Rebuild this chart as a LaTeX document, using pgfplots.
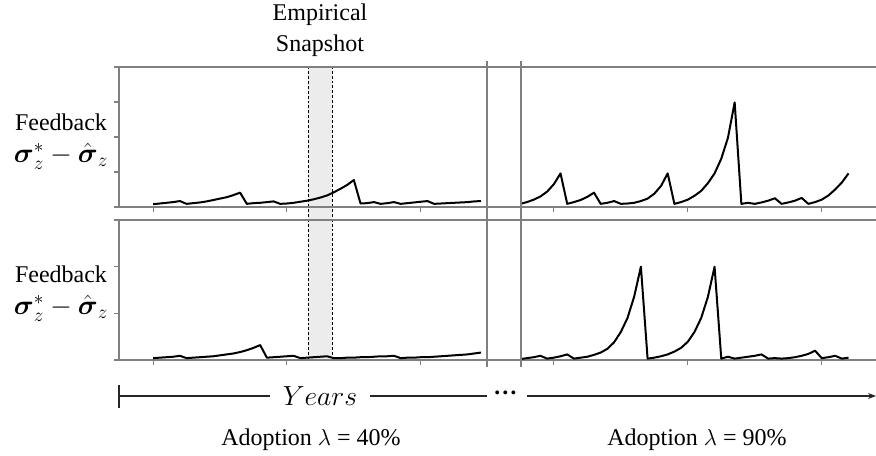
\documentclass[border=0pt]{standalone}
\usepackage{amsmath}
\usepackage{pgfplots}
\pgfplotsset{compat=1.18}
\usepackage{pgfplotstable}
\usepackage{fontspec}
\setmainfont{Liberation Serif}
\usetikzlibrary{arrows.meta}

% feedback series, one point per period
\pgfplotstableread{
t v
0 0.08
1 0.10
2 0.12
3 0.14
4 0.17
5 0.09
6 0.11
7 0.13
8 0.16
9 0.20
10 0.24
11 0.28
12 0.34
13 0.41
14 0.09
15 0.11
16 0.12
17 0.14
18 0.16
19 0.09
20 0.10
21 0.12
22 0.15
23 0.18
24 0.22
25 0.27
26 0.33
27 0.42
28 0.52
29 0.63
30 0.77
31 0.10
32 0.11
33 0.14
34 0.09
35 0.11
36 0.14
37 0.09
38 0.11
39 0.13
40 0.15
41 0.17
42 0.09
43 0.10
44 0.11
45 0.12
46 0.13
47 0.14
48 0.16
49 0.17
}\topleft

\pgfplotstableread{
t v
-5 0.09
-4 0.14
-3 0.21
-2 0.30
-1 0.44
0 0.65
1 0.96
2 0.09
3 0.14
4 0.20
5 0.29
6 0.41
7 0.09
8 0.12
9 0.17
10 0.09
11 0.10
12 0.12
13 0.17
14 0.24
15 0.38
16 0.60
17 0.96
18 0.09
19 0.14
20 0.21
21 0.32
22 0.46
23 0.68
24 0.96
25 1.38
26 1.98
27 2.99
28 0.09
29 0.12
30 0.09
31 0.13
32 0.18
33 0.25
34 0.09
35 0.13
36 0.18
37 0.26
38 0.09
39 0.14
40 0.21
41 0.33
42 0.50
43 0.70
44 0.96
}\topright

\pgfplotstableread{
t v
0 0.04
1 0.05
2 0.06
3 0.07
4 0.09
5 0.04
6 0.05
7 0.06
8 0.07
9 0.08
10 0.10
11 0.12
12 0.14
13 0.17
14 0.21
15 0.26
16 0.32
17 0.05
18 0.06
19 0.07
20 0.08
21 0.09
22 0.04
23 0.05
24 0.06
25 0.07
26 0.08
27 0.04
28 0.04
29 0.05
30 0.05
31 0.06
32 0.06
33 0.07
34 0.08
35 0.08
36 0.09
37 0.04
38 0.05
39 0.05
40 0.06
41 0.06
42 0.07
43 0.08
44 0.09
45 0.10
46 0.11
47 0.12
48 0.14
49 0.16
}\botleft

\pgfplotstableread{
t v
-5 0.02
-4 0.04
-3 0.06
-2 0.09
-1 0.03
0 0.05
1 0.08
2 0.12
3 0.03
4 0.05
5 0.07
6 0.11
7 0.16
8 0.24
9 0.38
10 0.60
11 0.90
12 1.36
13 2.00
14 0.03
15 0.05
16 0.08
17 0.12
18 0.18
19 0.26
20 0.39
21 0.60
22 0.90
23 1.35
24 2.00
25 0.03
26 0.07
27 0.03
28 0.05
29 0.07
30 0.09
31 0.12
32 0.03
33 0.04
34 0.03
35 0.04
36 0.06
37 0.09
38 0.13
39 0.20
40 0.04
41 0.06
42 0.09
43 0.03
44 0.05
}\botright

\pgfplotsset{
  panel/.style={
    scale only axis, anchor=south west, height=105pt,
    axis line style={gray, line width=1pt, -},
    xtick={0,20,40}, xticklabels={}, yticklabels={},
    xtick pos=lower, ytick pos=left,
    tick align=outside, major tick length=4pt,
    every tick/.style={gray, line width=0.8pt},
    clip=false,
  },
  leftpanel/.style={panel, width=276pt, xmin=-5.1, xmax=49.9},
  rightpanel/.style={panel, width=266.25pt, xmin=-4.9, xmax=48.1,
    axis x line*=box, axis y line*=left, ytick=\empty},
  curve/.style={black, line width=1.5pt, line join=round, mark=none},
}

\newcommand{\fb}{Feedback\\[1pt]{\fontsize{22}{26}\selectfont$\boldsymbol{\sigma}_z^{*}-\hat{\boldsymbol{\sigma}}_z$}}

\begin{document}
\begin{tikzpicture}[font=\fontsize{18}{23.25}\selectfont]
\useasboundingbox (0,0) rectangle (657pt,341.25pt);

% empirical snapshot band
\fill[gray!15] (231pt,71.25pt) rectangle (249pt,291pt);
\draw[black, line width=0.6pt, dash pattern=on 2.2pt off 1.5pt] (231pt,71.25pt) rectangle (249pt,291pt);

\begin{axis}[leftpanel, at={(89.25pt,186pt)}, ymin=0, ymax=4, ytick={0,1,2,3,4}]
\addplot[curve] table[x=t, y=v] {\topleft};
\end{axis}
\begin{axis}[rightpanel, at={(390.75pt,186pt)}, ymin=0, ymax=4]
\addplot[curve] table[x=t, y=v] {\topright};
\end{axis}
\begin{axis}[leftpanel, at={(89.25pt,71.25pt)}, ymin=0, ymax=3, ytick={0,1,2,3}]
\addplot[curve] table[x=t, y=v] {\botleft};
\end{axis}
\begin{axis}[rightpanel, at={(390.75pt,71.25pt)}, ymin=0, ymax=3]
\addplot[curve] table[x=t, y=v] {\botright};
\end{axis}

% break between the two adoption levels
\draw[gray, line width=1pt] (365.25pt,295.5pt) -- (365.25pt,66pt);
\draw[gray, line width=1pt] (390.75pt,295.5pt) -- (390.75pt,66pt);
\foreach \yy in {291,186,176.25,71.25}
  \draw[gray, line width=1pt] (365.25pt,\yy pt) -- (390.75pt,\yy pt);

% labels
\node[align=center] at (240pt,318.75pt) {Empirical\\Snapshot};
\node[align=center] at (45.75pt,235pt) {\fb};
\node[align=center] at (45.75pt,121pt) {\fb};

% time arrow
\draw[black!85, line width=0.8pt] (89.25pt,52.5pt) -- (89.25pt,35.25pt);
\draw[black!85, line width=0.8pt] (89.25pt,44.25pt) -- (202.5pt,44.25pt);
\node[font=\fontsize{20}{24}\selectfont] at (240pt,44.25pt) {$Years$};
\draw[black!85, line width=0.8pt] (277.5pt,44.25pt) -- (365.25pt,44.25pt);
\node at (379pt,46.5pt) {\bfseries …};
\draw[black!85, line width=0.8pt, -{Stealth[length=6pt]}] (395.25pt,44.25pt) -- (657pt,44.25pt);

\node at (233.25pt,11.25pt) {Adoption $\lambda$ = 40\%};
\node at (522.75pt,11.25pt) {Adoption $\lambda$ = 90\%};
\end{tikzpicture}
\end{document}
